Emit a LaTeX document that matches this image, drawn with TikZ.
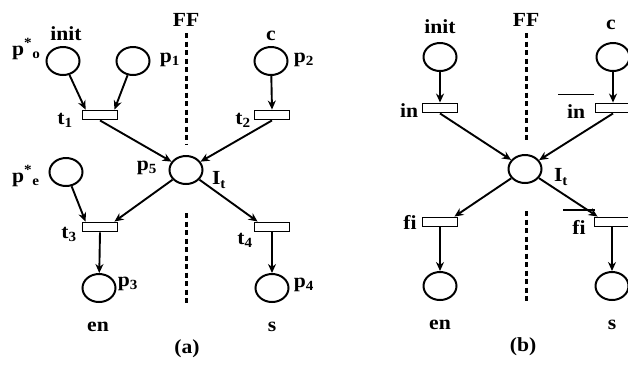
\documentclass[tikz,border=0pt]{standalone}
\usepackage{fontspec}
\setmainfont{Liberation Serif}[FakeStretch=1.08]
\usetikzlibrary{shapes.geometric,arrows.meta}
\newcommand{\lbfont}{\fontsize{20}{22}\selectfont\bfseries}
\tikzset{
  place/.style={ellipse,draw,line width=2pt,minimum width=33pt,minimum height=28pt,inner sep=0pt},
  trans/.style={rectangle,draw,line width=1.9pt,minimum width=35pt,minimum height=9pt,inner sep=0pt,fill=white},
  arc/.style={line width=1.9pt,-{Stealth[length=9pt,width=8pt]}},
  lbl/.style={font=\lbfont,inner sep=0pt},
  ff/.style={line width=3pt,dash pattern=on 5pt off 3.5pt},
}
\begin{document}
\begin{tikzpicture}[x=1pt,y=-1pt]
\useasboundingbox (0,0) rectangle (628,365);
% ---------- panel (a) ----------
\node[place] (p0) at (63,61) {};
\node[place] (p1) at (133,61) {};
\node[place] (p2) at (271,61) {};
\node[trans] (t1) at (100,115) {};
\node[trans] (t2) at (272,115) {};
\node[place] (p5) at (186,170) {};
\node[place] (pe) at (66,172) {};
\node[trans] (t3) at (100,227) {};
\node[trans] (t4) at (272,227) {};
\node[place] (p3) at (99,288) {};
\node[place] (p4) at (272,288) {};

\coordinate (fa1) at (186,33);
\coordinate (fa2) at (186,145);
\coordinate (fa3) at (186,213);
\coordinate (fa4) at (186,305);
\draw[ff] (fa1) -- (fa2);
\draw[ff] (fa3) -- (fa4);

\draw[arc] (p0) -- ([xshift=4pt]t1.north west);
\draw[arc] (p1) -- ([xshift=-4pt]t1.north east);
\draw[arc] (p2) -- (t2.north);
\draw[arc] (t1.south) -- (p5);
\draw[arc] (t2.south) -- (p5);
\draw[arc] (pe) -- ([xshift=4pt]t3.north west);
\draw[arc] (p5) -- ([xshift=-4pt]t3.north east);
\draw[arc] (p5) -- ([xshift=4pt]t4.north west);
\draw[arc] (t3.south) -- (p3);
\draw[arc] (t4.south) -- (p4);

\node[lbl] (lFFa) at (186,20) {FF};
\node[lbl] (linita) at (66,34) {init};
\node[lbl,anchor=west] (lp0) at (12,49) {p\textsuperscript{*}\textsubscript{o}};
\node[lbl] (lp1) at (170,60) {p\textsubscript{1}};
\node[lbl] (lca) at (271,36) {c};
\node[lbl] (lp2) at (304,60) {p\textsubscript{2}};
\node[lbl] (lt1) at (65,120) {t\textsubscript{1}};
\node[lbl] (lt2) at (243,120) {t\textsubscript{2}};
\node[lbl] (lp5) at (147,168) {p\textsubscript{5}};
\node[lbl] (lIa) at (219,180) {I\textsubscript{t}};
\node[lbl,anchor=west] (lpe) at (12,176) {p\textsuperscript{*}\textsubscript{e}};
\node[lbl] (lt3) at (69,234) {t\textsubscript{3}};
\node[lbl] (lt4) at (245,240) {t\textsubscript{4}};
\node[lbl] (lp3) at (128,284) {p\textsubscript{3}};
\node[lbl] (lp4) at (304,285) {p\textsubscript{4}};
\node[lbl] (lena) at (98,327) {en};
\node[lbl] (lsa) at (272,327) {s};
\node[lbl] (la) at (187,349) {(a)};

% ---------- panel (b) ----------
\node[place] (init) at (440,57) {};
\node[place] (c) at (613,57) {};
\node[trans] (in) at (440,108) {};
\node[trans] (inb) at (613,108) {};
\node[place] (It) at (525,169) {};
\node[trans] (fi) at (440,222) {};
\node[trans] (fib) at (612,222) {};
\node[place] (en) at (440,286) {};
\node[place] (s) at (612,286) {};

\coordinate (fb1) at (526,33);
\coordinate (fb2) at (526,143);
\coordinate (fb3) at (526,211);
\coordinate (fb4) at (526,303);
\draw[ff] (fb1) -- (fb2);
\draw[ff] (fb3) -- (fb4);

\draw[arc] (init) -- (in.north);
\draw[arc] (c) -- (inb.north);
\draw[arc] (in.south) -- (It);
\draw[arc] (inb.south) -- (It);
\draw[arc] (It) -- ([xshift=-4pt]fi.north east);
\draw[arc] (It) -- ([xshift=4pt]fib.north west);
\draw[arc] (fi.south) -- (en);
\draw[arc] (fib.south) -- (s);

\node[lbl] (lFFb) at (526,20) {FF};
\node[lbl] (linitb) at (440,27) {init};
\node[lbl] (lcb) at (611,25) {c};
\node[lbl] (lin) at (409,111) {in};
\node[lbl] (linb) at (576,106) {\shortstack{\rule{36pt}{1.4pt}\\[6pt]in}};
\node[lbl] (lIb) at (561,177) {I\textsubscript{t}};
\node[lbl] (lfi) at (410,222) {fi};
\node[lbl] (lfib) at (579,222) {\shortstack{\rule{32pt}{1.4pt}\\[7pt]fi}};
\node[lbl] (lenb) at (440,325) {en};
\node[lbl] (lsb) at (612,325) {s};
\node[lbl] (lb) at (523,347) {(b)};
\end{tikzpicture}
\end{document}
